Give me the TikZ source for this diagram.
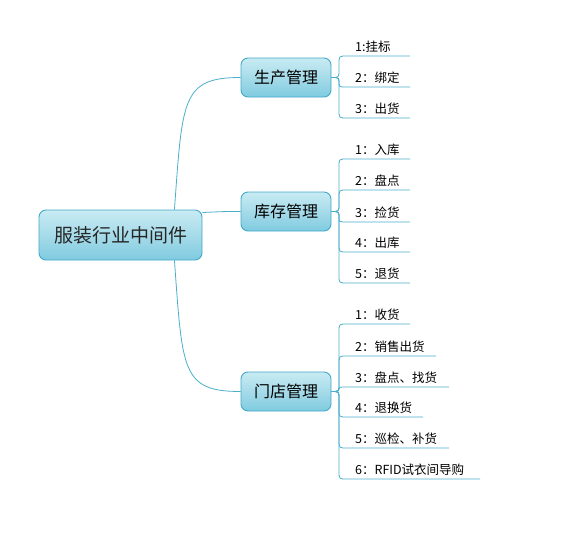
\documentclass[tikz,border=0pt]{standalone}
\usepackage{fontspec}
\setmainfont{Noto Sans CJK SC}
\usetikzlibrary{backgrounds}
\definecolor{edge}{HTML}{45A9C8}
\definecolor{boxtop}{HTML}{C8EBF3}
\definecolor{boxmid}{HTML}{A6DBE9}
\definecolor{boxbot}{HTML}{7FCBE0}
\definecolor{conncol}{HTML}{4BAFCB}
\tikzset{
  topicbox/.style={draw=edge, line width=0.9pt, rounded corners=7pt,
    top color=boxtop, bottom color=boxbot, middle color=boxmid,
    inner sep=0pt, text=black},
  rootbox/.style={topicbox, minimum width=163pt, minimum height=50pt, font=\fontsize{19}{21}\selectfont, text=black!85},
  subbox/.style={topicbox, minimum width=90pt, minimum height=39pt, font=\fontsize{16}{18}\selectfont},
  leaftext/.style={anchor=base west, inner sep=0pt, font=\fontsize{12.5}{14}\selectfont, text=black},
  conn/.style={draw=conncol, line width=0.8pt},
}
\newcommand\leafbranch[8]{% #1 parent, #2 py, #3 m1, #4 m2, #5 ly, #6 name, #7 endx, #8 text
  \node[leaftext] (#6) at (355,#5-5) {#8};
  \coordinate (#6s) at (347,#5);
  \coordinate (#6e) at (#7,#5);
  \draw[conn] (#1.east) .. controls (339,#2) .. (339,#3) -- (339,#4) .. controls (339,#5) .. (#6s) -- (#6e);
}
\begin{document}
\begin{tikzpicture}[x=1pt,y=-1pt]
\useasboundingbox (0,0) rectangle (568,536);
\node[rootbox] (root) at (120.5,235) {服装行业中间件};
\node[subbox] (b1) at (286,77.5) {生产管理};
\node[subbox] (b2) at (286,211.5) {库存管理};
\node[subbox] (b3) at (286,391.5) {门店管理};
\coordinate (r1) at ([xshift=-28pt]root.north east);
\coordinate (r2) at ([yshift=-3pt]root.north east);
\coordinate (r3) at ([xshift=-28pt]root.south east);
\begin{pgfonlayer}{background}
\fill[white] (0,0) rectangle (568,536);
\draw[conn] (r1) .. controls +(8,-110) and +(-59,0) .. (b1.west);
\draw[conn] (r2) .. controls +(18,-1) and +(-16,0) .. (b2.west);
\draw[conn] (r3) .. controls +(8,110) and +(-59,0) .. (b3.west);
\end{pgfonlayer}
% 生产管理
\leafbranch{b1}{77.5}{69.5}{64}{56}{a1}{410}{1:挂标}
\leafbranch{b1}{77.5}{82.25}{82.25}{87}{a2}{410}{2：绑定}
\leafbranch{b1}{77.5}{85.5}{110}{118}{a3}{410}{3：出货}
% 库存管理
\leafbranch{b2}{211.5}{203.5}{167}{159}{c1}{410}{1：入库}
\leafbranch{b2}{211.5}{203.5}{198}{190}{c2}{410}{2：盘点}
\leafbranch{b2}{211.5}{216.75}{216.75}{222}{c3}{410}{3：捡货}
\leafbranch{b2}{211.5}{219.5}{244}{252}{c4}{410}{4：出库}
\leafbranch{b2}{211.5}{219.5}{275}{283}{c5}{410}{5：退货}
% 门店管理
\leafbranch{b3}{391.5}{383.5}{332}{324}{d1}{410}{1：收货}
\leafbranch{b3}{391.5}{383.5}{364}{356}{d2}{436}{2：销售出货}
\leafbranch{b3}{391.5}{389.25}{389.25}{387}{d3}{449}{3：盘点、找货}
\leafbranch{b3}{391.5}{399.5}{409}{417}{d4}{423}{4：退换货}
\leafbranch{b3}{391.5}{399.5}{440}{448}{d5}{449}{5：巡检、补货}
\leafbranch{b3}{391.5}{399.5}{471}{479}{d6}{480}{6：RFID试衣间导购}
\end{tikzpicture}
\end{document}
